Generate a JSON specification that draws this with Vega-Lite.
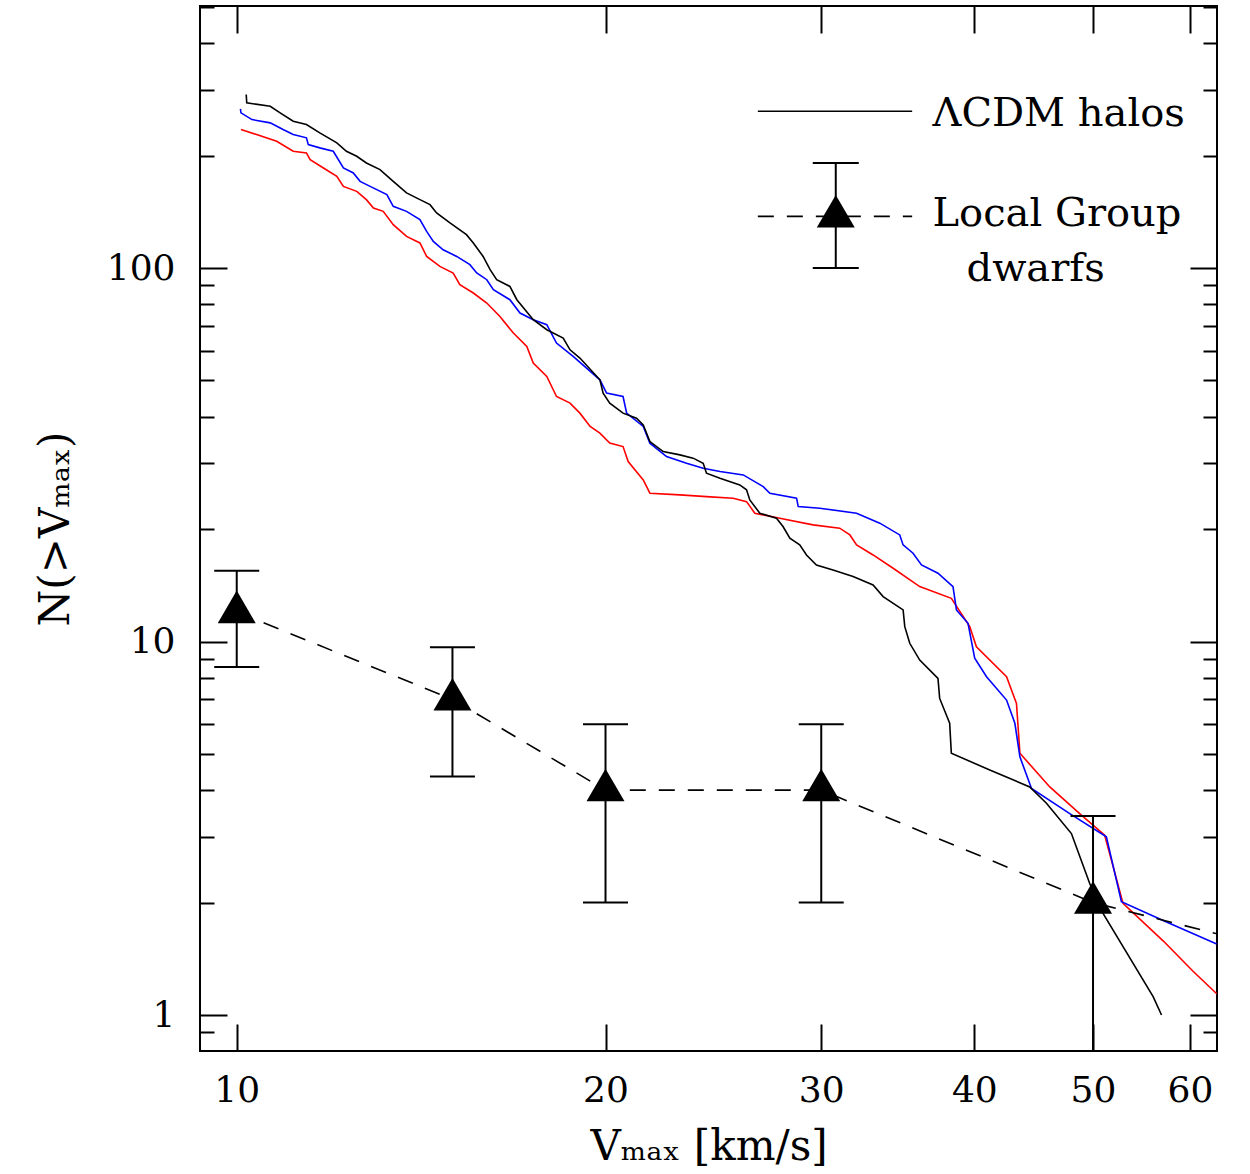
{
  "$schema": "https://vega.github.io/schema/vega-lite/v6.json",
  "width": 1017,
  "height": 1045,
  "autosize": {"type": "none"},
  "padding": {"left": 200, "top": 6, "right": 33, "bottom": 123},
  "background": "white",
  "config": {
    "view": {"stroke": "black", "strokeWidth": 2},
    "axis": {
      "labelFont": "DejaVu Serif",
      "titleFont": "DejaVu Serif",
      "labelColor": "black",
      "titleColor": "black",
      "tickColor": "black",
      "tickWidth": 2,
      "domain": false,
      "grid": false,
      "titleFontWeight": "normal",
      "labelFontSize": 36,
      "titleFontSize": 42,
      "labelFlush": false,
      "labelOverlap": false
    }
  },
  "datasets": {
    "halos": [
      {"sim": "run 3", "V": 10.08, "N": 234.8}, {"sim": "run 3", "V": 10.38, "N": 227.7}, {"sim": "run 3", "V": 10.78, "N": 218.4}, {"sim": "run 3", "V": 11.12, "N": 205.4}, {"sim": "run 3", "V": 11.40, "N": 203.3}, {"sim": "run 3", "V": 11.48, "N": 195.1}, {"sim": "run 3", "V": 11.77, "N": 185.3}, {"sim": "run 3", "V": 12.07, "N": 176.0}, {"sim": "run 3", "V": 12.22, "N": 165.4}, {"sim": "run 3", "V": 12.53, "N": 160.4}, {"sim": "run 3", "V": 12.76, "N": 152.4}, {"sim": "run 3", "V": 12.93, "N": 144.8}, {"sim": "run 3", "V": 13.17, "N": 141.8}, {"sim": "run 3", "V": 13.42, "N": 130.6}, {"sim": "run 3", "V": 13.76, "N": 121.5}, {"sim": "run 3", "V": 14.11, "N": 116.7}, {"sim": "run 3", "V": 14.29, "N": 107.4}, {"sim": "run 3", "V": 14.65, "N": 101.0}, {"sim": "run 3", "V": 15.02, "N": 96.96}, {"sim": "run 3", "V": 15.21, "N": 90.21}, {"sim": "run 3", "V": 15.60, "N": 85.72}, {"sim": "run 3", "V": 16.00, "N": 80.58}, {"sim": "run 3", "V": 16.40, "N": 74.19}, {"sim": "run 3", "V": 16.82, "N": 66.96}, {"sim": "run 3", "V": 17.25, "N": 61.64}, {"sim": "run 3", "V": 17.46, "N": 55.64}, {"sim": "run 3", "V": 17.91, "N": 51.23}, {"sim": "run 3", "V": 18.24, "N": 45.29}, {"sim": "run 3", "V": 18.71, "N": 43.47}, {"sim": "run 3", "V": 19.06, "N": 40.87}, {"sim": "run 3", "V": 19.43, "N": 37.64}, {"sim": "run 3", "V": 19.79, "N": 36.14}, {"sim": "run 3", "V": 20.16, "N": 33.97}, {"sim": "run 3", "V": 20.67, "N": 33.26}, {"sim": "run 3", "V": 20.87, "N": 30.33}, {"sim": "run 3", "V": 21.47, "N": 27.08}, {"sim": "run 3", "V": 21.74, "N": 24.95}, {"sim": "run 3", "V": 23.00, "N": 24.69}, {"sim": "run 3", "V": 24.18, "N": 24.43}, {"sim": "run 3", "V": 25.42, "N": 24.19}, {"sim": "run 3", "V": 26.07, "N": 23.69}, {"sim": "run 3", "V": 26.48, "N": 22.05}, {"sim": "run 3", "V": 27.75, "N": 21.38}, {"sim": "run 3", "V": 29.54, "N": 20.52}, {"sim": "run 3", "V": 31.06, "N": 20.11}, {"sim": "run 3", "V": 31.66, "N": 19.29}, {"sim": "run 3", "V": 32.06, "N": 18.14}, {"sim": "run 3", "V": 33.07, "N": 17.05}, {"sim": "run 3", "V": 34.34, "N": 15.71}, {"sim": "run 3", "V": 36.10, "N": 14.03}, {"sim": "run 3", "V": 38.31, "N": 13.05}, {"sim": "run 3", "V": 39.66, "N": 10.96}, {"sim": "run 3", "V": 40.16, "N": 9.68}, {"sim": "run 3", "V": 42.50, "N": 8.05}, {"sim": "run 3", "V": 43.30, "N": 6.83}, {"sim": "run 3", "V": 43.58, "N": 5.02}, {"sim": "run 3", "V": 46.10, "N": 4.08}, {"sim": "run 3", "V": 48.76, "N": 3.46}, {"sim": "run 3", "V": 51.11, "N": 3.03}, {"sim": "run 3", "V": 52.90, "N": 1.99}, {"sim": "run 3", "V": 57.04, "N": 1.58}, {"sim": "run 3", "V": 60.34, "N": 1.31}, {"sim": "run 3", "V": 63.09, "N": 1.14},

      {"sim": "run 2", "V": 10.07, "N": 266.7}, {"sim": "run 2", "V": 10.08, "N": 260.2}, {"sim": "run 2", "V": 10.29, "N": 249.7}, {"sim": "run 2", "V": 10.65, "N": 244.7}, {"sim": "run 2", "V": 10.91, "N": 234.8}, {"sim": "run 2", "V": 11.12, "N": 227.7}, {"sim": "run 2", "V": 11.40, "N": 223.1}, {"sim": "run 2", "V": 11.44, "N": 214.0}, {"sim": "run 2", "V": 11.69, "N": 209.7}, {"sim": "run 2", "V": 11.99, "N": 205.4}, {"sim": "run 2", "V": 12.22, "N": 185.3}, {"sim": "run 2", "V": 12.45, "N": 179.7}, {"sim": "run 2", "V": 12.61, "N": 170.6}, {"sim": "run 2", "V": 12.85, "N": 165.4}, {"sim": "run 2", "V": 13.26, "N": 157.2}, {"sim": "run 2", "V": 13.42, "N": 146.3}, {"sim": "run 2", "V": 13.76, "N": 141.8}, {"sim": "run 2", "V": 14.11, "N": 134.7}, {"sim": "run 2", "V": 14.29, "N": 125.3}, {"sim": "run 2", "V": 14.47, "N": 117.8}, {"sim": "run 2", "V": 14.74, "N": 111.9}, {"sim": "run 2", "V": 15.12, "N": 107.4}, {"sim": "run 2", "V": 15.50, "N": 102.1}, {"sim": "run 2", "V": 15.70, "N": 96.96}, {"sim": "run 2", "V": 16.00, "N": 93.04}, {"sim": "run 2", "V": 16.20, "N": 87.47}, {"sim": "run 2", "V": 16.71, "N": 82.25}, {"sim": "run 2", "V": 17.03, "N": 75.76}, {"sim": "run 2", "V": 17.46, "N": 72.70}, {"sim": "run 2", "V": 17.91, "N": 70.49}, {"sim": "run 2", "V": 18.24, "N": 62.96}, {"sim": "run 2", "V": 18.82, "N": 57.97}, {"sim": "run 2", "V": 19.79, "N": 50.20}, {"sim": "run 2", "V": 20.04, "N": 46.25}, {"sim": "run 2", "V": 20.67, "N": 45.29}, {"sim": "run 2", "V": 20.81, "N": 40.87}, {"sim": "run 2", "V": 21.47, "N": 37.64}, {"sim": "run 2", "V": 21.74, "N": 33.97}, {"sim": "run 2", "V": 22.43, "N": 31.27}, {"sim": "run 2", "V": 23.29, "N": 30.02}, {"sim": "run 2", "V": 24.03, "N": 29.11}, {"sim": "run 2", "V": 24.80, "N": 28.51}, {"sim": "run 2", "V": 25.91, "N": 27.93}, {"sim": "run 2", "V": 26.90, "N": 25.99}, {"sim": "run 2", "V": 27.24, "N": 24.95}, {"sim": "run 2", "V": 28.64, "N": 24.19}, {"sim": "run 2", "V": 28.73, "N": 22.97}, {"sim": "run 2", "V": 29.92, "N": 22.75}, {"sim": "run 2", "V": 32.06, "N": 22.05}, {"sim": "run 2", "V": 33.49, "N": 20.74}, {"sim": "run 2", "V": 34.77, "N": 19.29}, {"sim": "run 2", "V": 34.99, "N": 18.14}, {"sim": "run 2", "V": 35.65, "N": 17.23}, {"sim": "run 2", "V": 36.22, "N": 16.03}, {"sim": "run 2", "V": 37.36, "N": 15.23}, {"sim": "run 2", "V": 38.43, "N": 14.03}, {"sim": "run 2", "V": 38.68, "N": 12.15}, {"sim": "run 2", "V": 39.53, "N": 11.19}, {"sim": "run 2", "V": 40.03, "N": 9.02}, {"sim": "run 2", "V": 40.93, "N": 8.05}, {"sim": "run 2", "V": 42.50, "N": 6.97}, {"sim": "run 2", "V": 43.17, "N": 6.04}, {"sim": "run 2", "V": 43.58, "N": 4.91}, {"sim": "run 2", "V": 44.54, "N": 4.04}, {"sim": "run 2", "V": 47.86, "N": 3.46}, {"sim": "run 2", "V": 51.27, "N": 3.00}, {"sim": "run 2", "V": 52.74, "N": 2.01}, {"sim": "run 2", "V": 57.04, "N": 1.79}, {"sim": "run 2", "V": 63.09, "N": 1.55},

      {"sim": "run 1", "V": 10.18, "N": 291.3}, {"sim": "run 1", "V": 10.19, "N": 276.8}, {"sim": "run 1", "V": 10.65, "N": 271.0}, {"sim": "run 1", "V": 10.85, "N": 260.2}, {"sim": "run 1", "V": 11.12, "N": 247.1}, {"sim": "run 1", "V": 11.40, "N": 242.1}, {"sim": "run 1", "V": 11.69, "N": 230.0}, {"sim": "run 1", "V": 12.07, "N": 216.2}, {"sim": "run 1", "V": 12.29, "N": 205.3}, {"sim": "run 1", "V": 12.53, "N": 199.1}, {"sim": "run 1", "V": 12.76, "N": 191.1}, {"sim": "run 1", "V": 13.09, "N": 183.4}, {"sim": "run 1", "V": 13.42, "N": 170.6}, {"sim": "run 1", "V": 13.76, "N": 158.9}, {"sim": "run 1", "V": 14.11, "N": 152.4}, {"sim": "run 1", "V": 14.38, "N": 147.8}, {"sim": "run 1", "V": 14.56, "N": 140.4}, {"sim": "run 1", "V": 14.93, "N": 132.0}, {"sim": "run 1", "V": 15.40, "N": 122.8}, {"sim": "run 1", "V": 15.60, "N": 116.7}, {"sim": "run 1", "V": 15.89, "N": 107.4}, {"sim": "run 1", "V": 16.10, "N": 98.96}, {"sim": "run 1", "V": 16.30, "N": 93.04}, {"sim": "run 1", "V": 16.71, "N": 89.25}, {"sim": "run 1", "V": 16.93, "N": 82.25}, {"sim": "run 1", "V": 17.46, "N": 72.70}, {"sim": "run 1", "V": 17.91, "N": 68.35}, {"sim": "run 1", "V": 18.47, "N": 64.93}, {"sim": "run 1", "V": 18.71, "N": 60.40}, {"sim": "run 1", "V": 19.06, "N": 57.40}, {"sim": "run 1", "V": 19.79, "N": 50.20}, {"sim": "run 1", "V": 19.91, "N": 46.25}, {"sim": "run 1", "V": 20.16, "N": 43.47}, {"sim": "run 1", "V": 20.67, "N": 40.87}, {"sim": "run 1", "V": 21.20, "N": 39.63}, {"sim": "run 1", "V": 21.47, "N": 38.03}, {"sim": "run 1", "V": 21.74, "N": 34.30}, {"sim": "run 1", "V": 22.29, "N": 32.25}, {"sim": "run 1", "V": 23.00, "N": 31.60}, {"sim": "run 1", "V": 23.58, "N": 30.97}, {"sim": "run 1", "V": 24.03, "N": 30.02}, {"sim": "run 1", "V": 24.18, "N": 28.22}, {"sim": "run 1", "V": 24.80, "N": 27.37}, {"sim": "run 1", "V": 25.74, "N": 26.26}, {"sim": "run 1", "V": 26.07, "N": 25.47}, {"sim": "run 1", "V": 26.23, "N": 23.94}, {"sim": "run 1", "V": 26.73, "N": 22.05}, {"sim": "run 1", "V": 27.58, "N": 21.38}, {"sim": "run 1", "V": 27.92, "N": 20.31}, {"sim": "run 1", "V": 28.28, "N": 18.90}, {"sim": "run 1", "V": 28.81, "N": 18.14}, {"sim": "run 1", "V": 29.18, "N": 17.05}, {"sim": "run 1", "V": 29.73, "N": 16.03}, {"sim": "run 1", "V": 30.67, "N": 15.54}, {"sim": "run 1", "V": 31.85, "N": 14.92}, {"sim": "run 1", "V": 33.07, "N": 14.17}, {"sim": "run 1", "V": 33.70, "N": 13.19}, {"sim": "run 1", "V": 34.99, "N": 12.15}, {"sim": "run 1", "V": 35.10, "N": 10.96}, {"sim": "run 1", "V": 35.43, "N": 9.89}, {"sim": "run 1", "V": 36.10, "N": 8.92}, {"sim": "run 1", "V": 37.36, "N": 7.97}, {"sim": "run 1", "V": 37.48, "N": 7.04}, {"sim": "run 1", "V": 38.19, "N": 6.04}, {"sim": "run 1", "V": 38.31, "N": 5.02}, {"sim": "run 1", "V": 41.18, "N": 4.53}, {"sim": "run 1", "V": 44.39, "N": 4.08}, {"sim": "run 1", "V": 45.81, "N": 3.69}, {"sim": "run 1", "V": 48.01, "N": 3.06}, {"sim": "run 1", "V": 49.69, "N": 2.25}, {"sim": "run 1", "V": 50.95, "N": 1.87}, {"sim": "run 1", "V": 55.98, "N": 1.12}, {"sim": "run 1", "V": 56.87, "N": 1.0}
    ],
    "dwarfs": [
      {"V": 10, "N": 12, "lo": 8.54, "hi": 15.46},
      {"V": 15, "N": 7, "lo": 4.35, "hi": 9.65},
      {"V": 20, "N": 4, "lo": 2, "hi": 6},
      {"V": 30, "N": 4, "lo": 2, "hi": 6},
      {"V": 50, "N": 2, "lo": 0.59, "hi": 3.41}
    ],
    "dwarf_trend": [
      {"V": 10, "N": 12},
      {"V": 15, "N": 7},
      {"V": 20, "N": 4},
      {"V": 30, "N": 4},
      {"V": 50, "N": 2},
      {"V": 63.12, "N": 1.65}
    ]
  },
  "layer": [
    {
      "data": {"name": "halos"},
      "mark": {"type": "line", "strokeWidth": 1.6, "clip": true},
      "encoding": {
        "x": {"field": "V", "type": "quantitative",
              "scale": {"type": "log", "domain": [9.333, 63.12], "nice": false},
              "axis": {"orient": "bottom", "values": [10, 20, 30, 40, 50, 60], "format": "d", "tickSize": -27, "labelPadding": 49, "title": "Vₘₐₓ [km/s]", "titlePadding": 18}},
        "y": {"field": "N", "type": "quantitative",
              "scale": {"type": "log", "domain": [0.801, 502.9], "nice": false},
              "axis": {"orient": "left", "values": [0.9, 1, 2, 3, 4, 5, 6, 7, 8, 9, 10, 20, 30, 40, 50, 60, 70, 80, 90, 100, 200, 300, 400, 500],
                       "format": "~g",
                       "labelExpr": "datum.value == 1 || datum.value == 10 || datum.value == 100 ? datum.label : ''",
                       "tickSize": {"condition": {"test": "datum.value == 1 || datum.value == 10 || datum.value == 100", "value": -27}, "value": -14},
                       "labelPadding": 52, "title": "N(>Vₘₐₓ)", "titlePadding": 29}},
        "color": {"field": "sim", "type": "nominal",
                  "scale": {"domain": ["run 3", "run 2", "run 1"], "range": ["#ff0000", "#0000ff", "#000000"]},
                  "legend": null}
      }
    },
    {
      "data": {"name": "dwarf_trend"},
      "mark": {"type": "line", "strokeWidth": 1.6, "strokeDash": [16, 13], "color": "black", "clip": true},
      "encoding": {
        "x": {"field": "V", "type": "quantitative",
              "scale": {"type": "log", "domain": [9.333, 63.12], "nice": false},
              "axis": {"orient": "top", "values": [10, 20, 30, 40, 50, 60], "tickSize": -27, "labels": false, "title": null}},
        "y": {"field": "N", "type": "quantitative",
              "scale": {"type": "log", "domain": [0.801, 502.9], "nice": false},
              "axis": {"orient": "right", "values": [0.9, 1, 2, 3, 4, 5, 6, 7, 8, 9, 10, 20, 30, 40, 50, 60, 70, 80, 90, 100, 200, 300, 400, 500],
                       "tickSize": {"condition": {"test": "datum.value == 1 || datum.value == 10 || datum.value == 100", "value": -27}, "value": -14},
                       "labels": false, "title": null}}
      }
    },
    {
      "data": {"name": "dwarfs"},
      "mark": {"type": "rule", "strokeWidth": 2, "color": "black", "clip": true},
      "encoding": {
        "x": {"field": "V", "type": "quantitative", "scale": {"type": "log", "domain": [9.333, 63.12], "nice": false}, "axis": null},
        "y": {"field": "lo", "type": "quantitative", "scale": {"type": "log", "domain": [0.801, 502.9], "nice": false}, "axis": null},
        "y2": {"field": "hi"}
      }
    },
    {
      "data": {"name": "dwarfs"},
      "mark": {"type": "tick", "orient": "horizontal", "size": 45, "thickness": 2, "color": "black", "opacity": 1, "clip": true},
      "encoding": {
        "x": {"field": "V", "type": "quantitative", "scale": {"type": "log", "domain": [9.333, 63.12], "nice": false}, "axis": null},
        "y": {"field": "hi", "type": "quantitative", "scale": {"type": "log", "domain": [0.801, 502.9], "nice": false}, "axis": null}
      }
    },
    {
      "data": {"name": "dwarfs"},
      "mark": {"type": "tick", "orient": "horizontal", "size": 45, "thickness": 2, "color": "black", "opacity": 1, "clip": true},
      "encoding": {
        "x": {"field": "V", "type": "quantitative", "scale": {"type": "log", "domain": [9.333, 63.12], "nice": false}, "axis": null},
        "y": {"field": "lo", "type": "quantitative", "scale": {"type": "log", "domain": [0.801, 502.9], "nice": false}, "axis": null}
      }
    },
    {
      "data": {"name": "dwarfs"},
      "mark": {"type": "point", "shape": "M0,-1.13L1,0.59L-1,0.59Z", "size": 1444, "filled": true, "color": "black", "opacity": 1, "strokeWidth": 0},
      "encoding": {
        "x": {"field": "V", "type": "quantitative", "scale": {"type": "log", "domain": [9.333, 63.12], "nice": false}, "axis": null},
        "y": {"field": "N", "type": "quantitative", "scale": {"type": "log", "domain": [0.801, 502.9], "nice": false}, "axis": null}
      }
    },
    {
      "data": {"values": [{"label": "ΛCDM halos"}]},
      "mark": {"type": "rule", "strokeWidth": 1.6, "color": "black"},
      "encoding": {
        "x": {"datum": 26.63, "type": "quantitative", "scale": {"type": "log", "domain": [9.333, 63.12], "nice": false}, "axis": null},
        "x2": {"datum": 35.59},
        "y": {"datum": 262.8, "type": "quantitative", "scale": {"type": "log", "domain": [0.801, 502.9], "nice": false}, "axis": null}
      }
    },
    {
      "data": {"values": [{"label": "ΛCDM halos"}]},
      "mark": {"type": "text", "align": "left", "baseline": "alphabetic", "font": "DejaVu Serif", "fontSize": 40, "color": "black"},
      "encoding": {
        "x": {"datum": 36.98, "type": "quantitative", "scale": {"type": "log", "domain": [9.333, 63.12], "nice": false}, "axis": null},
        "y": {"datum": 239.6, "type": "quantitative", "scale": {"type": "log", "domain": [0.801, 502.9], "nice": false}, "axis": null},
        "text": {"field": "label"}
      }
    },
    {
      "data": {"values": [{"label": "Local Group dwarfs"}]},
      "mark": {"type": "rule", "strokeWidth": 1.6, "strokeDash": [16, 13], "color": "black"},
      "encoding": {
        "x": {"datum": 26.63, "type": "quantitative", "scale": {"type": "log", "domain": [9.333, 63.12], "nice": false}, "axis": null},
        "x2": {"datum": 35.59},
        "y": {"datum": 137.5, "type": "quantitative", "scale": {"type": "log", "domain": [0.801, 502.9], "nice": false}, "axis": null}
      }
    },
    {
      "data": {"values": [{"label": "Local Group dwarfs"}]},
      "mark": {"type": "rule", "strokeWidth": 2, "color": "black"},
      "encoding": {
        "x": {"datum": 30.83, "type": "quantitative", "scale": {"type": "log", "domain": [9.333, 63.12], "nice": false}, "axis": null},
        "y": {"datum": 100, "type": "quantitative", "scale": {"type": "log", "domain": [0.801, 502.9], "nice": false}, "axis": null},
        "y2": {"datum": 191.1}
      }
    },
    {
      "data": {"values": [{"label": "Local Group dwarfs"}]},
      "mark": {"type": "tick", "orient": "horizontal", "size": 46, "thickness": 2, "color": "black", "opacity": 1},
      "encoding": {
        "x": {"datum": 30.83, "type": "quantitative", "scale": {"type": "log", "domain": [9.333, 63.12], "nice": false}, "axis": null},
        "y": {"datum": 191.1, "type": "quantitative", "scale": {"type": "log", "domain": [0.801, 502.9], "nice": false}, "axis": null}
      }
    },
    {
      "data": {"values": [{"label": "Local Group dwarfs"}]},
      "mark": {"type": "tick", "orient": "horizontal", "size": 46, "thickness": 2, "color": "black", "opacity": 1},
      "encoding": {
        "x": {"datum": 30.83, "type": "quantitative", "scale": {"type": "log", "domain": [9.333, 63.12], "nice": false}, "axis": null},
        "y": {"datum": 100, "type": "quantitative", "scale": {"type": "log", "domain": [0.801, 502.9], "nice": false}, "axis": null}
      }
    },
    {
      "data": {"values": [{"label": "Local Group dwarfs"}]},
      "mark": {"type": "point", "shape": "M0,-1.13L1,0.59L-1,0.59Z", "size": 1444, "filled": true, "color": "black", "opacity": 1, "strokeWidth": 0},
      "encoding": {
        "x": {"datum": 30.83, "type": "quantitative", "scale": {"type": "log", "domain": [9.333, 63.12], "nice": false}, "axis": null},
        "y": {"datum": 137.5, "type": "quantitative", "scale": {"type": "log", "domain": [0.801, 502.9], "nice": false}, "axis": null}
      }
    },
    {
      "data": {"values": [{"label": "Local Group"}]},
      "mark": {"type": "text", "align": "left", "baseline": "alphabetic", "font": "DejaVu Serif", "fontSize": 40, "color": "black"},
      "encoding": {
        "x": {"datum": 36.98, "type": "quantitative", "scale": {"type": "log", "domain": [9.333, 63.12], "nice": false}, "axis": null},
        "y": {"datum": 129.2, "type": "quantitative", "scale": {"type": "log", "domain": [0.801, 502.9], "nice": false}, "axis": null},
        "text": {"field": "label"}
      }
    },
    {
      "data": {"values": [{"label": "dwarfs"}]},
      "mark": {"type": "text", "align": "left", "baseline": "alphabetic", "font": "DejaVu Serif", "fontSize": 40, "color": "black"},
      "encoding": {
        "x": {"datum": 39.42, "type": "quantitative", "scale": {"type": "log", "domain": [9.333, 63.12], "nice": false}, "axis": null},
        "y": {"datum": 92.07, "type": "quantitative", "scale": {"type": "log", "domain": [0.801, 502.9], "nice": false}, "axis": null},
        "text": {"field": "label"}
      }
    }
  ],
  "resolve": {"axis": {"x": "independent", "y": "independent"}}
}
